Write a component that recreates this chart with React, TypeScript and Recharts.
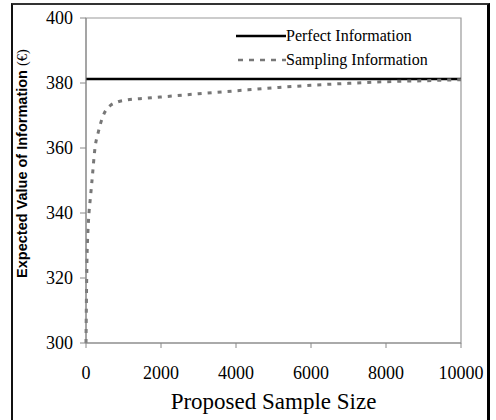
import { LineChart, Line, XAxis, YAxis, ReferenceArea, Label } from "recharts";

// sample size (x) and expected value of sampling information (y, €)
const sampleSizes = [0, 10, 25, 50, 80, 120, 160, 240, 330, 460, 640, 850, 1100, 1600, 2000, 3000, 4000, 5000, 6000, 7000, 8000, 9000, 10000];
const samplingValues = [300, 312, 325, 334, 340, 345, 350, 360, 365, 370, 373, 374.2, 374.8, 375.3, 375.7, 376.7, 377.6, 378.5, 379.3, 379.9, 380.4, 380.7, 381];
const perfectValue = 381.2;

const xTicks = [0, 2000, 4000, 6000, 8000, 10000];
const yTicks = [300, 320, 340, 360, 380, 400];

const seriesNames = ["Perfect Information", "Sampling Information"];

const data = sampleSizes.map((n, i) => ({
  n,
  sampling: samplingValues[i],
  perfect: perfectValue,
}));

const serif = "'Liberation Serif', 'Times New Roman', serif";
const tickStyle = { fontFamily: serif, fontSize: 18, fill: "#000" };

function LegendBox() {
  return (
    <div
      style={{
        position: "absolute",
        left: 236,
        top: 24,
        fontFamily: serif,
        fontSize: 16,
        color: "#000",
        lineHeight: "24px",
      }}
    >
      <div style={{ display: "flex", alignItems: "center" }}>
        <svg width={50} height={6}>
          <line x1={0} y1={3} x2={50} y2={3} stroke="#000" strokeWidth={2.5} />
        </svg>
        <span>{seriesNames[0]}</span>
      </div>
      <div style={{ display: "flex", alignItems: "center" }}>
        <svg width={50} height={6}>
          <line x1={2} y1={3} x2={50} y2={3} stroke="#777" strokeWidth={2.5} strokeDasharray="5 6" />
        </svg>
        <span>{seriesNames[1]}</span>
      </div>
    </div>
  );
}

function YTitle({ viewBox }: any) {
  const cx = 22;
  const cy = viewBox ? viewBox.y + viewBox.height / 2 - 17 : 163;
  return (
    <text
      x={cx}
      y={cy}
      transform={`rotate(-90 ${cx} ${cy})`}
      textAnchor="middle"
      dominantBaseline="central"
      style={{ fontFamily: "'Liberation Sans', Arial, sans-serif", fontSize: 14.5, fontWeight: "bold" }}
      fill="#000"
    >
      Expected Value of Information{" "}
      <tspan style={{ fontFamily: serif, fontWeight: "normal" }}>(€)</tspan>
    </text>
  );
}

export default function App() {
  return (
    <div style={{ position: "absolute", left: 0, top: 0, width: 496, height: 420, overflow: "hidden", background: "#fff" }}>
      <div
        style={{
          position: "absolute",
          left: 11,
          top: 3,
          width: 474,
          height: 440,
          borderTop: "2px solid #333",
          borderLeft: "2px solid #111",
          borderRight: "3px solid #000",
        }}
      />
      <div style={{ position: "absolute", left: 0, top: 0 }}>
        <LineChart width={496} height={420} data={data} margin={{ top: 18, right: 35, bottom: 47, left: 26 }}>
          <ReferenceArea x1={0} x2={10000} y1={300} y2={400} fill="none" stroke="#999" strokeWidth={1.2} ifOverflow="visible" />
          <XAxis
            dataKey="n"
            type="number"
            domain={[0, 10000]}
            ticks={xTicks}
            height={30}
            tick={tickStyle}
            tickSize={5}
            tickMargin={18}
            stroke="#888"
          >
            <Label
              value="Proposed Sample Size"
              position="insideBottom"
              offset={-36}
              style={{ fontFamily: serif, fontSize: 23, fill: "#000" }}
            />
          </XAxis>
          <YAxis
            type="number"
            domain={[300, 400]}
            ticks={yTicks}
            width={60}
            tick={tickStyle}
            tickSize={6}
            tickMargin={7}
            stroke="#888"
            label={<YTitle />}
          />
          <Line
            dataKey="perfect"
            name={seriesNames[0]}
            type="linear"
            stroke="#000"
            strokeWidth={2.5}
            dot={false}
            isAnimationActive={false}
          />
          <Line
            dataKey="sampling"
            name={seriesNames[1]}
            type="monotone"
            stroke="#777"
            strokeWidth={3}
            strokeDasharray="4 6"
            dot={false}
            isAnimationActive={false}
          />
        </LineChart>
      </div>
      <LegendBox />
    </div>
  );
}
